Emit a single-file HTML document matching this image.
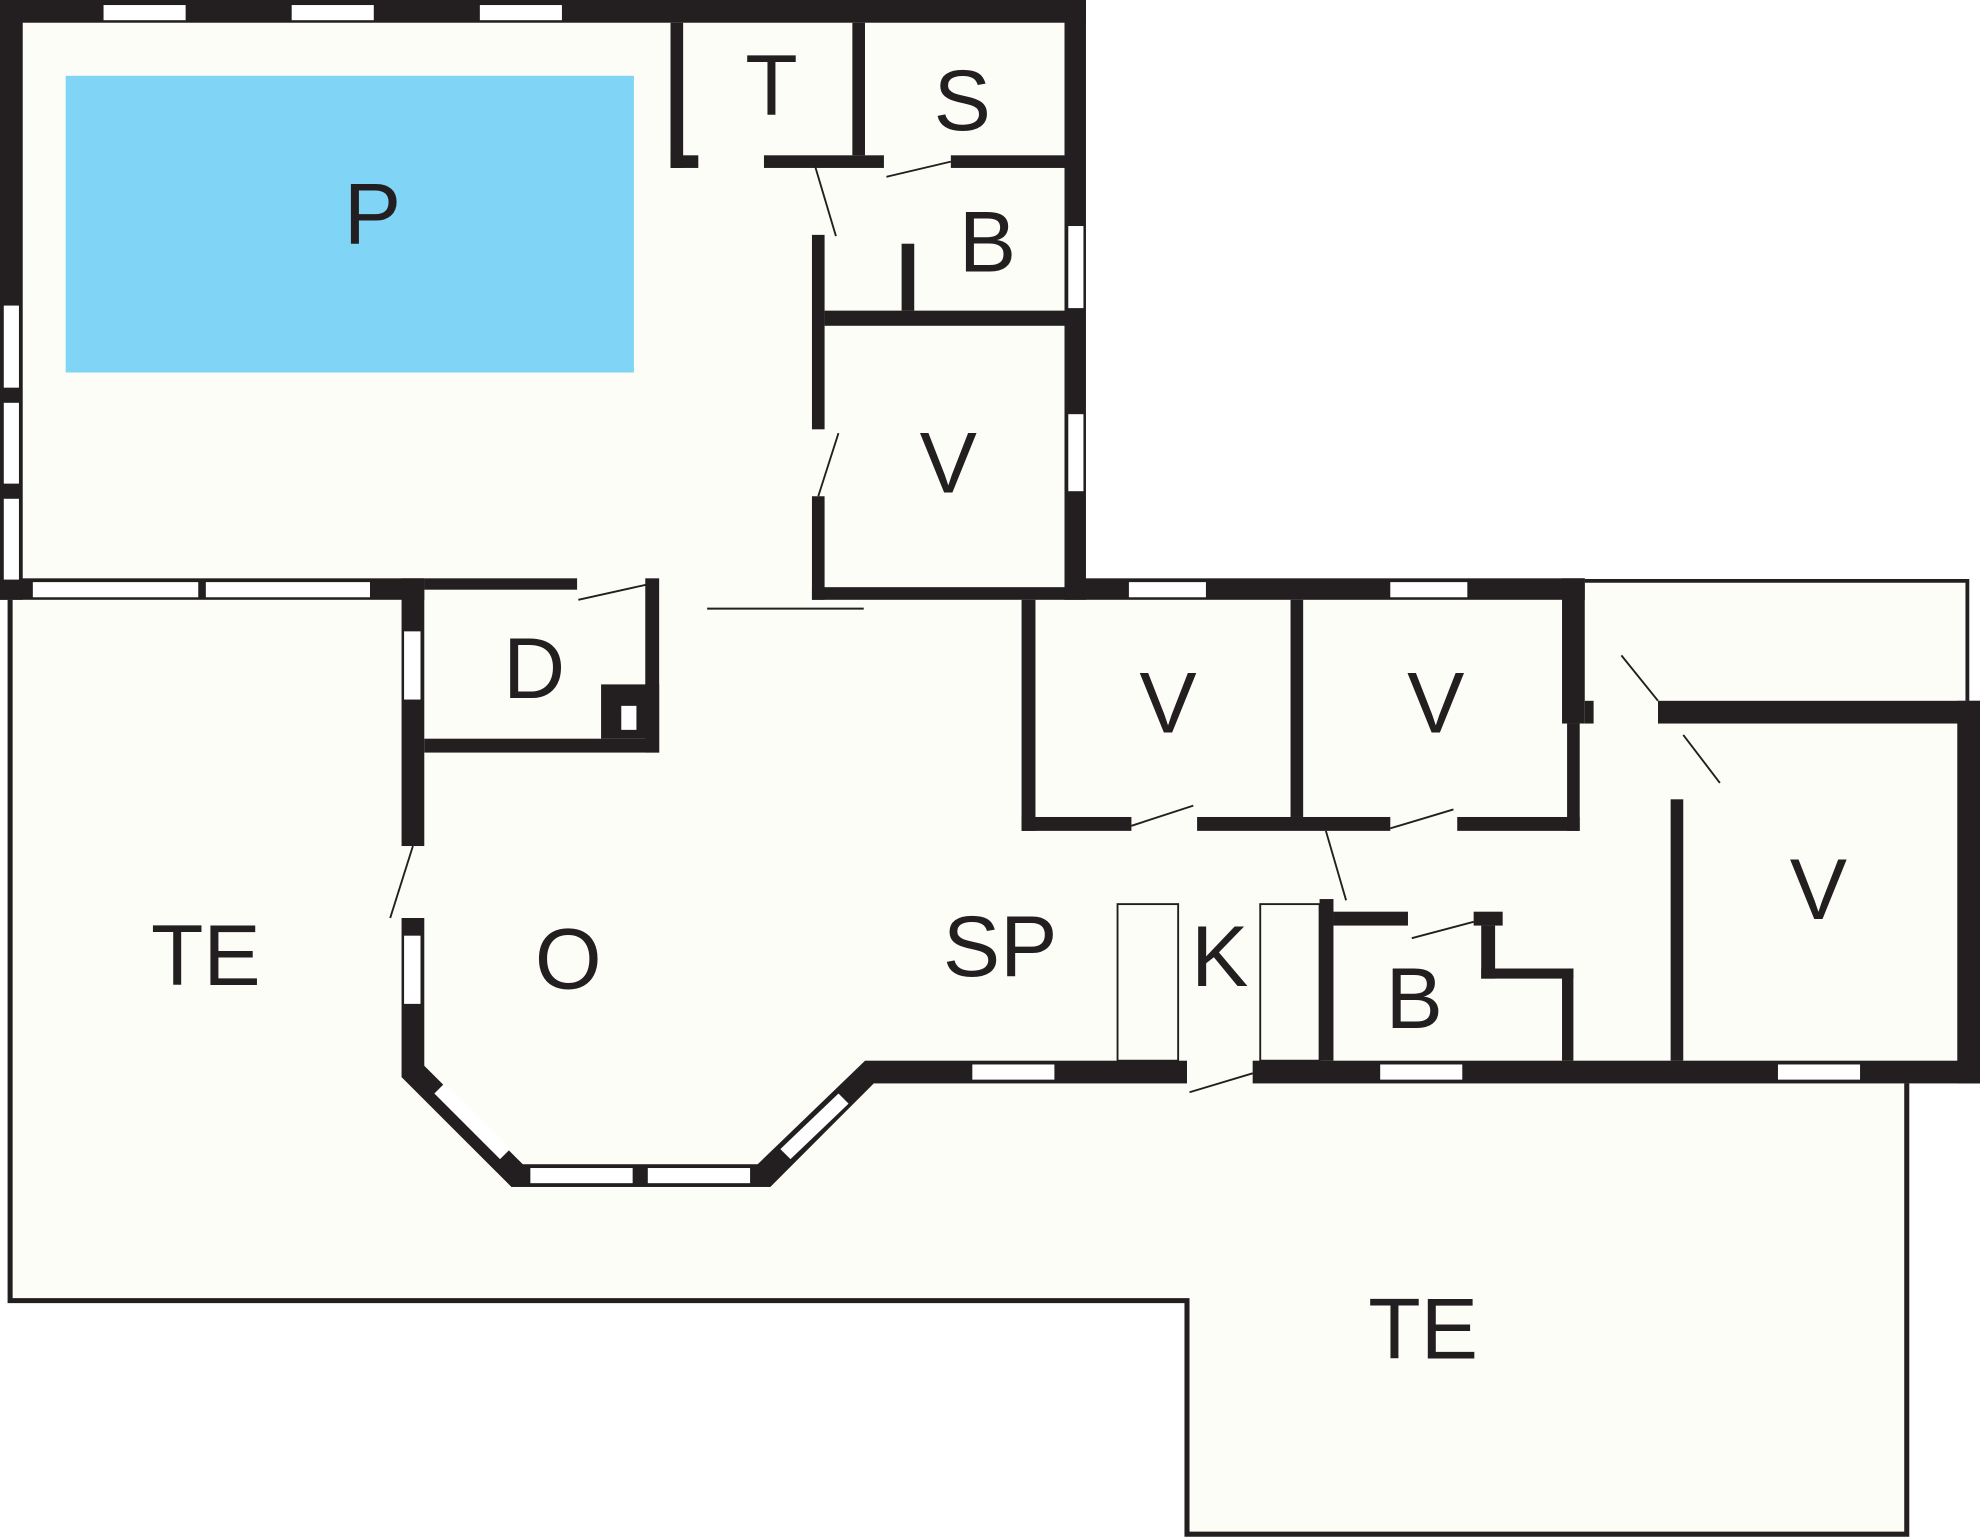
<!DOCTYPE html>
<html><head><meta charset="utf-8"><style>html,body{margin:0;padding:0;background:#fff}svg{display:block}</style></head><body>
<svg width="1980" height="1538" viewBox="0 0 1568 1218" preserveAspectRatio="none" xmlns="http://www.w3.org/2000/svg">
<polygon points="0,0 860,0 860,458 1560,458 1560,555 1568,555 1568,858 1510,858 1510,1215 940,1215 940,1030 8,1030 8,475 0,475" fill="#fdfdf7"/>
<polyline points="8,475 8,1030 940,1030 940,1215 1510,1215 1510,858" fill="none" stroke="#231f20" stroke-width="4"/>
<polyline points="1255,460 1558,460 1558,555" fill="none" stroke="#231f20" stroke-width="3"/>
<rect x="52" y="60" width="450" height="235" fill="#80d4f6"/>
<g fill="#231f20">
<rect x="0" y="0" width="860" height="18"/>
<rect x="0" y="0" width="18" height="475"/>
<rect x="843" y="0" width="17" height="475"/>
<rect x="0" y="458" width="336" height="17"/>
<rect x="336" y="458" width="121" height="9"/>
<rect x="843" y="458" width="412" height="17"/>
<rect x="531" y="18" width="10" height="115"/>
<rect x="531" y="123" width="22" height="10"/>
<rect x="605" y="123" width="95" height="10"/>
<rect x="753" y="123" width="90" height="10"/>
<rect x="675" y="18" width="10" height="105"/>
<rect x="643" y="186" width="10" height="154"/>
<rect x="643" y="393" width="10" height="82"/>
<rect x="653" y="246" width="190" height="12"/>
<rect x="714" y="193" width="10" height="53"/>
<rect x="643" y="465" width="200" height="10"/>
<rect x="318" y="458" width="18" height="212"/>
<rect x="336" y="585" width="186" height="11"/>
<rect x="511" y="458" width="11" height="138"/>
<rect x="476" y="542" width="46" height="43"/>
<rect x="318" y="727" width="18" height="126"/>
<polygon points="318,853 336,844 414,922 405,940"/>
<rect x="405" y="922" width="205" height="18"/>
<polygon points="600,922 685,840 692,858 610,940"/>
<rect x="685" y="840" width="255" height="18"/>
<rect x="992" y="840" width="576" height="18"/>
<rect x="1550" y="555" width="18" height="303"/>
<rect x="1313" y="555" width="255" height="18"/>
<rect x="1237" y="458" width="18" height="115"/>
<rect x="1255" y="555" width="7" height="18"/>
<rect x="1323" y="633" width="10" height="207"/>
<rect x="809" y="475" width="11" height="183"/>
<rect x="809" y="647" width="87" height="11"/>
<rect x="948" y="647" width="153" height="11"/>
<rect x="1154" y="647" width="97" height="11"/>
<rect x="1022" y="475" width="10" height="172"/>
<rect x="1241" y="573" width="10" height="85"/>
<rect x="1045" y="712" width="11" height="128"/>
<rect x="1056" y="722" width="59" height="11"/>
<rect x="1167" y="722" width="23" height="11"/>
<rect x="1173" y="733" width="11" height="42"/>
<rect x="1173" y="767" width="73" height="8"/>
<rect x="1237" y="767" width="9" height="73"/>
</g>
<g fill="#fff">
<rect x="82" y="4" width="65" height="12"/><rect x="231" y="4" width="65" height="12"/><rect x="380" y="4" width="65" height="12"/>
<rect x="3" y="242" width="12" height="65"/><rect x="3" y="319" width="12" height="64"/><rect x="3" y="395" width="12" height="64"/>
<rect x="26" y="461" width="131" height="12"/><rect x="163" y="461" width="130" height="12"/>
<rect x="894" y="461" width="61" height="12"/><rect x="1101" y="461" width="61" height="12"/>
<rect x="846" y="179" width="12" height="65"/><rect x="846" y="328" width="12" height="61"/>
<rect x="320" y="500" width="13" height="54"/><rect x="320" y="741" width="13" height="54"/>
<rect x="492" y="559" width="12" height="19"/>
<rect x="420" y="925" width="81" height="12"/><rect x="513" y="925" width="81" height="12"/>
<rect x="770" y="843" width="65" height="12"/><rect x="1093" y="843" width="65" height="12"/><rect x="1408" y="843" width="65" height="12"/>
<polygon points="344,866 352,858 404,910 396,918"/>
<polygon points="618,910 664,866 672,874 626,918"/>
</g>
<g fill="none" stroke="#231f20" stroke-width="1.5">
<line x1="645" y1="130" x2="662" y2="187"/><line x1="702" y1="140" x2="753" y2="128"/><line x1="664" y1="343" x2="648" y2="393"/>
<line x1="560" y1="482" x2="684" y2="482"/><line x1="458" y1="475" x2="512" y2="463"/><line x1="327" y1="670" x2="309" y2="727"/>
<line x1="942" y1="865" x2="992" y2="850"/><line x1="1284" y1="519" x2="1313" y2="555"/><line x1="1333" y1="582" x2="1362" y2="620"/>
<line x1="896" y1="654" x2="945" y2="638"/><line x1="1101" y1="656" x2="1151" y2="641"/>
<line x1="1050" y1="658" x2="1066" y2="713"/><line x1="1118" y1="743" x2="1167" y2="730"/>
<rect x="885" y="716" width="48" height="124"/><rect x="998" y="716" width="47" height="124"/>
</g>
<g font-family="Liberation Sans, sans-serif" font-size="68" fill="#231f20" text-anchor="middle" dominant-baseline="central">
<text x="295" y="170">P</text><text x="611" y="68">T</text><text x="762" y="80">S</text><text x="782" y="192">B</text>
<text x="751" y="367">V</text><text x="423" y="530">D</text><text x="925" y="557">V</text><text x="1137" y="557">V</text>
<text x="1440" y="705">V</text><text x="163" y="757">TE</text><text x="450" y="760">O</text><text x="792" y="750">SP</text>
<text x="966" y="758">K</text><text x="1120" y="791">B</text><text x="1127" y="1053">TE</text>
</g>
</svg>
</body></html>
